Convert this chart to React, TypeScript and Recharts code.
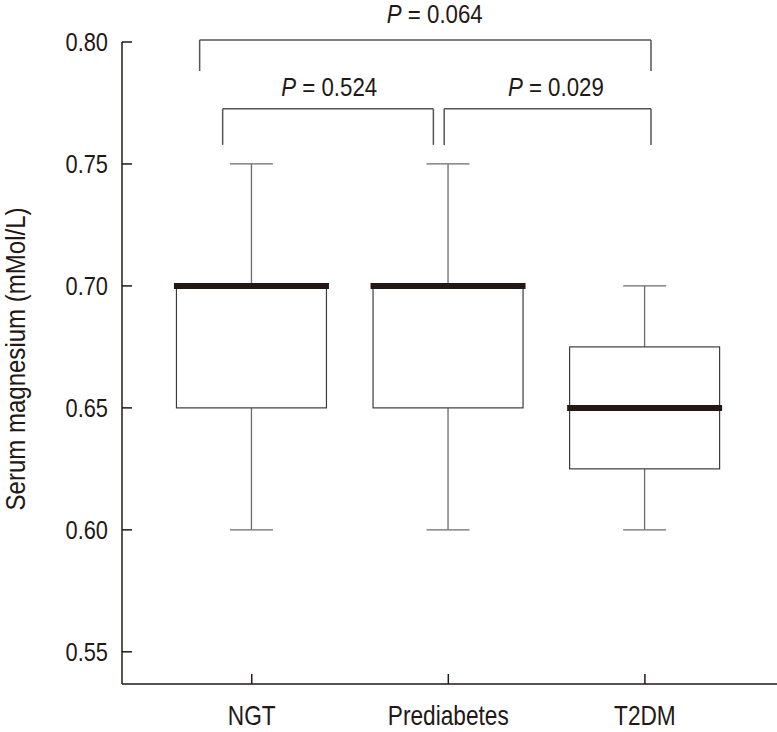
import {
    ComposedChart,
    Bar,
    XAxis,
    YAxis,
    ReferenceLine,
    ReferenceDot,
} from 'recharts'

// groups, one box each
const categories = ['NGT', 'Prediabetes', 'T2DM']
const positions = [1, 2, 3]
const mins = [0.6, 0.6, 0.6]
const q1s = [0.65, 0.65, 0.625]
const medians = [0.7, 0.7, 0.65]
const q3s = [0.7, 0.7, 0.675]
const maxs = [0.75, 0.75, 0.7]

const yTicks = [0.55, 0.6, 0.65, 0.7, 0.75, 0.8]

// significance brackets (data units)
const pValues = ['0.064', '0.524', '0.029']
const bracketLeft = [0.735, 0.852, 1.979]
const bracketRight = [3.031, 1.924, 3.031]
const bracketTop = [0.8008, 0.7726, 0.7726]
const bracketFoot = [0.7881, 0.7578, 0.7578]
const pLabelX = [1.931, 1.394, 2.547]
const pLabelY = [0.8079, 0.7779, 0.7779]

const data = categories.map((name, i) => ({
    name,
    x: positions[i],
    min: mins[i],
    q1: q1s[i],
    median: medians[i],
    q3: q3s[i],
    max: maxs[i],
}))

// condensed look: Liberation Sans squeezed horizontally
const FONT = "'Liberation Sans', Arial, sans-serif"
const SQUEEZE = 0.84
const INK = '#231815'

const BoxShape = (props: any) => {
    const { x, y, width, height, payload } = props
    if (!payload) return null
    const top = Math.min(y, y + height)
    const h = Math.abs(height)
    const k = h / (payload.max - payload.min)
    const py = (v: number) => top + (payload.max - v) * k
    const cx = x + width / 2
    const cap = 21.5
    return (
        <g>
            <line x1={cx} x2={cx} y1={py(payload.max)} y2={py(payload.q3)} stroke="#6b6b6b" strokeWidth={1.3} />
            <line x1={cx} x2={cx} y1={py(payload.q1)} y2={py(payload.min)} stroke="#6b6b6b" strokeWidth={1.3} />
            <line x1={cx - cap} x2={cx + cap} y1={py(payload.max)} y2={py(payload.max)} stroke="#6b6b6b" strokeWidth={1.3} />
            <line x1={cx - cap} x2={cx + cap} y1={py(payload.min)} y2={py(payload.min)} stroke="#6b6b6b" strokeWidth={1.3} />
            <rect
                x={x}
                y={py(payload.q3)}
                width={width}
                height={py(payload.q1) - py(payload.q3)}
                fill="#fff"
                stroke="#3c3c3c"
                strokeWidth={1.2}
            />
            <line
                x1={x - 2.5}
                x2={x + width + 2.5}
                y1={py(payload.median)}
                y2={py(payload.median)}
                stroke={INK}
                strokeWidth={6}
            />
        </g>
    )
}

const XTick = ({ x, y, payload }: any) => (
    <g transform={`translate(${x},${y})`}>
        <text transform={`scale(${SQUEEZE},1)`} textAnchor="middle" dy="0.71em" fontSize={27} fontFamily={FONT} fill={INK}>
            {categories[payload.value - 1]}
        </text>
    </g>
)

const YTick = ({ x, y, payload }: any) => (
    <g transform={`translate(${x},${y})`}>
        <text transform={`scale(${SQUEEZE},1)`} textAnchor="end" dy="0.355em" fontSize={26} fontFamily={FONT} fill={INK}>
            {Number(payload.value).toFixed(2)}
        </text>
    </g>
)

const YLabel = ({ viewBox }: any) => {
    const cx = viewBox.x + 15
    const cy = viewBox.y + viewBox.height / 2 - 4
    return (
        <g transform={`translate(${cx},${cy}) rotate(-90)`}>
            <text transform="scale(0.89,1)" textAnchor="middle" dy="0.355em" fontSize={27} fontFamily={FONT} fill={INK}>
                Serum magnesium (mMol/L)
            </text>
        </g>
    )
}

const PText = ({ cx, cy, text }: { cx: number; cy: number; text: string }) => (
    <g transform={`translate(${cx},${cy})`}>
        <text transform={`scale(${SQUEEZE},1)`} textAnchor="middle" fontSize={26.5} fontFamily={FONT} fill={INK}>
            <tspan fontStyle="italic">P</tspan>
            {' = ' + text}
        </text>
    </g>
)

const App = () => {
    return (
        <div
            style={{
                position: 'absolute',
                left: 0,
                top: 0,
                width: 777,
                height: 732,
                overflow: 'hidden',
                background: '#fff',
            }}
        >
            <ComposedChart
                width={777}
                height={732}
                data={data}
                margin={{ top: 42, right: 0, bottom: 0, left: 0 }}
            >
                <XAxis
                    type="number"
                    dataKey="x"
                    domain={[0.34, 3.672]}
                    allowDataOverflow
                    ticks={positions}
                    height={48}
                    tickSize={-10}
                    tickMargin={32}
                    stroke={INK}
                    strokeWidth={1.5}
                    tick={XTick}
                />
                <YAxis
                    type="number"
                    domain={[0.5368, 0.8]}
                    allowDataOverflow
                    ticks={yTicks}
                    width={122}
                    tickSize={-10}
                    tickMargin={24}
                    stroke={INK}
                    strokeWidth={1.5}
                    tick={YTick}
                    label={YLabel}
                />
                <Bar
                    dataKey={(d: any) => [d.min, d.max]}
                    barSize={150}
                    shape={BoxShape}
                    isAnimationActive={false}
                />
                {pValues.map((p, i) => [
                    <ReferenceLine
                        key={'l' + i}
                        ifOverflow="visible"
                        stroke="#555"
                        strokeWidth={1.5}
                        segment={[
                            { x: bracketLeft[i], y: bracketFoot[i] },
                            { x: bracketLeft[i], y: bracketTop[i] },
                        ]}
                    />,
                    <ReferenceLine
                        key={'t' + i}
                        ifOverflow="visible"
                        stroke="#555"
                        strokeWidth={1.5}
                        segment={[
                            { x: bracketLeft[i], y: bracketTop[i] },
                            { x: bracketRight[i], y: bracketTop[i] },
                        ]}
                    />,
                    <ReferenceLine
                        key={'r' + i}
                        ifOverflow="visible"
                        stroke="#555"
                        strokeWidth={1.5}
                        segment={[
                            { x: bracketRight[i], y: bracketTop[i] },
                            { x: bracketRight[i], y: bracketFoot[i] },
                        ]}
                    />,
                    <ReferenceDot
                        key={'p' + i}
                        x={pLabelX[i]}
                        y={pLabelY[i]}
                        r={1}
                        ifOverflow="visible"
                        shape={(s: any) => <PText cx={s.cx} cy={s.cy} text={p} />}
                    />,
                ])}
            </ComposedChart>
        </div>
    )
}

export default App
